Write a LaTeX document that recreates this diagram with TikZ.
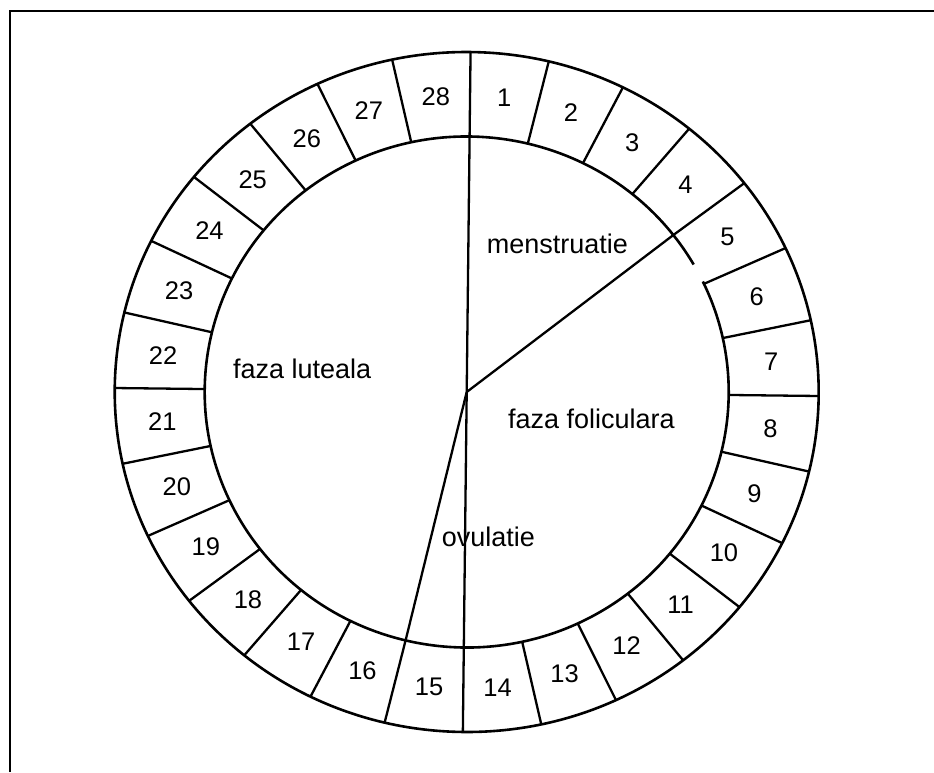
\documentclass[tikz,border=0pt]{standalone}
\usepackage{fontspec}
\setmainfont{Liberation Sans}
\begin{document}
\begin{tikzpicture}[x=1pt,y=1pt,
  ring/.style={line width=2.6pt},
  radial/.style={line width=2.3pt},
  daylabel/.style={font=\fontsize{25.5}{29}\selectfont, inner sep=0pt},
  phase/.style={font=\fontsize{27}{32}\selectfont, inner sep=0pt, anchor=base west},
  frameline/.style={line width=2pt}]
\useasboundingbox (0,0) rectangle (934,-772);
\draw[frameline] (10,-772) -- (10,-11) -- (934,-11);
\begin{scope}[shift={(466.7,-392)}, rotate=-0.65]
  \coordinate (c) at (0,0);
  \draw[ring] (c) ellipse [x radius=352, y radius=340];
  \draw[ring] (30.6:262 and 255.5) arc [start angle=30.6, end angle=386.3, x radius=262, y radius=255.5];
  \foreach \k in {0,...,27}{
    \pgfmathsetmacro\a{90-\k*360/28}
    \draw[radial] (\a:262 and 255.5) -- (\a:352 and 340);
  }
  \foreach \k in {0,4,14,15}{
    \pgfmathsetmacro\a{90-\k*360/28}
    \coordinate (r\k) at (\a:262 and 255.5);
    \draw[radial] (c) -- (r\k);
  }
  \foreach \n in {1,...,28}{
    \pgfmathsetmacro\a{90-(\n-0.5)*360/28}
    \node[daylabel] (d\n) at (\a:306 and 297) {\n};
  }
\end{scope}
\node[phase] (mens) at (486.7,-253) {menstruatie};
\node[phase] (lut) at (233,-378) {faza luteala};
\node[phase] (fol) at (508,-428) {faza foliculara};
\node[phase] (ovu) at (441.7,-546.7) {ovulatie};
\end{tikzpicture}
\end{document}
